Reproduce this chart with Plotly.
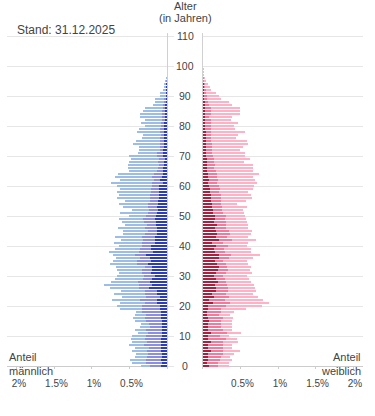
import plotly.graph_objects as go

ages = list(range(0, 101))

# Shares in % of total population, three segments per sex (inner, middle, outer)
male_dark = [0.08,0.07,0.08,0.07,0.07,0.08,0.08,0.08,0.08,0.08,
             0.07,0.07,0.07,0.07,0.07,0.07,0.08,0.08,0.08,0.09,
             0.09,0.13,0.13,0.09,0.13,0.13,0.24,0.20,0.23,0.20,
             0.16,0.21,0.20,0.20,0.25,0.21,0.23,0.28,0.19,0.21,
             0.21,0.16,0.16,0.16,0.13,0.13,0.13,0.15,0.15,0.16,
             0.15,0.13,0.12,0.13,0.12,0.12,0.11,0.11,0.11,0.11,
             0.11,0.05,0.09,0.07,0.05,0.05,0.05,0.04,0.04,0.03,
             0.05,0.05,0.05,0.04,0.04,0.04,0.04,0.04,0.04,0.04,
             0.04,0.04,0.03,0.03,0.03,0.03,0.03,0.03,0.01,0.01,
             0.01,0.01,0.01,0.01,0.01,0.00,0.00,0,0,0,0]
male_mid = [0.15,0.21,0.20,0.20,0.19,0.19,0.16,0.23,0.19,0.21,
            0.21,0.19,0.21,0.16,0.17,0.21,0.21,0.20,0.25,0.25,
            0.25,0.17,0.23,0.19,0.17,0.16,0.13,0.17,0.16,0.12,
            0.15,0.12,0.13,0.09,0.15,0.19,0.13,0.15,0.19,0.15,
            0.12,0.17,0.16,0.17,0.17,0.13,0.17,0.12,0.16,0.16,
            0.13,0.13,0.12,0.12,0.13,0.11,0.12,0.12,0.11,0.11,
            0.09,0.15,0.09,0.13,0.12,0.09,0.07,0.07,0.08,0.08,
            0.09,0.09,0.05,0.05,0.05,0.05,0.05,0.04,0.05,0.05,
            0.04,0.04,0.04,0.04,0.04,0.04,0.03,0.03,0.03,0.03,
            0.01,0.01,0.01,0.01,0.01,0.01,0.00,0,0,0,0]
male_light = [0.12,0.19,0.21,0.16,0.15,0.19,0.19,0.19,0.20,0.19,
              0.19,0.13,0.15,0.13,0.11,0.15,0.16,0.15,0.08,0.29,
              0.32,0.32,0.37,0.32,0.40,0.32,0.39,0.47,0.35,0.37,
              0.36,0.31,0.33,0.39,0.36,0.32,0.32,0.29,0.39,0.33,
              0.31,0.37,0.29,0.36,0.29,0.32,0.35,0.29,0.29,0.32,
              0.23,0.37,0.23,0.33,0.39,0.33,0.43,0.41,0.45,0.41,
              0.47,0.55,0.44,0.49,0.48,0.37,0.40,0.41,0.39,0.37,
              0.37,0.25,0.28,0.29,0.36,0.32,0.25,0.24,0.31,0.28,
              0.21,0.27,0.23,0.29,0.29,0.25,0.23,0.13,0.12,0.12,
              0.07,0.07,0.03,0.02,0.02,0.02,0.02,0,0,0,0]

female_dark = [0.08,0.05,0.07,0.07,0.07,0.11,0.07,0.07,0.11,0.07,
               0.07,0.11,0.07,0.07,0.07,0.08,0.07,0.05,0.05,0.07,
               0.07,0.13,0.08,0.15,0.12,0.17,0.17,0.16,0.20,0.17,
               0.15,0.17,0.20,0.21,0.19,0.16,0.21,0.21,0.16,0.15,
               0.17,0.12,0.21,0.17,0.19,0.17,0.16,0.19,0.15,0.16,
               0.16,0.13,0.13,0.12,0.12,0.11,0.11,0.11,0.09,0.09,
               0.08,0.07,0.08,0.07,0.07,0.05,0.05,0.05,0.05,0.05,
               0.04,0.04,0.04,0.04,0.04,0.04,0.04,0.04,0.04,0.03,
               0.03,0.03,0.03,0.03,0.03,0.03,0.03,0.03,0.03,0.01,
               0.01,0.01,0.01,0.01,0.01,0.00,0.00,0,0,0,0]
female_mid = [0.12,0.15,0.15,0.17,0.19,0.15,0.19,0.20,0.16,0.23,
              0.15,0.21,0.19,0.17,0.17,0.16,0.20,0.16,0.19,0.17,
              0.23,0.23,0.21,0.19,0.19,0.16,0.16,0.16,0.11,0.12,
              0.11,0.13,0.13,0.11,0.12,0.11,0.13,0.16,0.13,0.13,
              0.16,0.15,0.17,0.15,0.17,0.17,0.15,0.12,0.15,0.13,
              0.15,0.13,0.12,0.13,0.12,0.13,0.13,0.13,0.12,0.13,
              0.13,0.12,0.12,0.12,0.12,0.12,0.09,0.11,0.09,0.09,
              0.09,0.08,0.08,0.08,0.08,0.07,0.07,0.07,0.07,0.07,
              0.07,0.07,0.07,0.05,0.07,0.07,0.07,0.05,0.04,0.04,
              0.04,0.03,0.03,0.01,0.01,0.01,0.01,0.00,0,0,0]
female_light = [0.15,0.15,0.17,0.12,0.15,0.23,0.13,0.12,0.19,0.15,
                0.13,0.19,0.13,0.15,0.15,0.15,0.13,0.15,0.17,0.33,
                0.48,0.52,0.51,0.39,0.36,0.37,0.36,0.36,0.33,0.32,
                0.32,0.35,0.29,0.32,0.29,0.31,0.32,0.39,0.35,0.36,
                0.25,0.33,0.33,0.28,0.28,0.31,0.29,0.29,0.28,0.28,
                0.25,0.28,0.28,0.33,0.21,0.33,0.41,0.40,0.39,0.44,
                0.47,0.53,0.49,0.48,0.55,0.49,0.52,0.51,0.40,0.49,
                0.43,0.44,0.37,0.41,0.48,0.47,0.33,0.36,0.45,0.33,
                0.31,0.37,0.27,0.31,0.39,0.39,0.39,0.31,0.28,0.19,
                0.16,0.13,0.07,0.07,0.05,0.03,0.02,0.01,0.01,0.01,0.005]

x_ticks = [0.5, 1, 1.5, 2]
x_ticktext = ["0.5%", "1%", "1.5%", "2%"]
age_ticks = list(range(0, 111, 10))

FONT = "Liberation Sans, Arial, sans-serif"
male_colors = ["#2c3db6", "#8b8fde", "#9ebde6"]
female_colors = ["#a8213f", "#f27a9b", "#ffb2c5"]

fig = go.Figure()
for vals, col in zip([male_dark, male_mid, male_light], male_colors):
    fig.add_trace(go.Bar(y=ages, x=vals, orientation="h", width=2 / 3,
                         marker=dict(color=col, line=dict(width=0)),
                         xaxis="x", yaxis="y", hoverinfo="skip", showlegend=False))
for vals, col in zip([female_dark, female_mid, female_light], female_colors):
    fig.add_trace(go.Bar(y=ages, x=vals, orientation="h", width=2 / 3,
                         marker=dict(color=col, line=dict(width=0)),
                         xaxis="x2", yaxis="y2", hoverinfo="skip", showlegend=False))

W, H = 375, 416
def py(p):
    return (H - p) / H

# 3 px per year: plot spans pixel rows 33..369 for ages -1..111
ydom = [47 / H, 383 / H]
yrange = [-1, 111]

common_x = dict(tickvals=x_ticks, ticktext=x_ticktext, ticks="inside", ticklen=3,
                tickcolor="#cccccc", showgrid=False, zeroline=False, showline=False,
                tickfont=dict(size=10, color="#444444", family=FONT),
                ticklabelstandoff=7, fixedrange=True)

fig.update_layout(
    width=W, height=H, margin=dict(l=0, r=0, t=0, b=0),
    paper_bgcolor="white", plot_bgcolor="white",
    barmode="stack",
    hovermode=False, dragmode=False,
    font=dict(family=FONT, color="#444444"),
    xaxis=dict(domain=[7 / W, 167 / W], range=[2.133, 0], anchor="y",
               ticklabelshift=-2, **common_x),
    xaxis2=dict(domain=[203 / W, 363 / W], range=[0, 2.133], anchor="y2",
                ticklabelshift=2, **common_x),
    yaxis=dict(domain=ydom, range=yrange, anchor="x", side="right", tick0=0, dtick=10,
               showgrid=True, gridcolor="#e6e6e6", gridwidth=1,
               zeroline=True, zerolinecolor="#cccccc", zerolinewidth=1,
               showline=True, linecolor="#d0d0d0", linewidth=1,
               ticks="outside", ticklen=6, tickcolor="#e6e6e6",
               showticklabels=False, fixedrange=True),
    yaxis2=dict(domain=ydom, range=yrange, anchor="x2", side="left", tick0=0, dtick=10,
                matches="y",
                showgrid=True, gridcolor="#e6e6e6", gridwidth=1,
                zeroline=True, zerolinecolor="#cccccc", zerolinewidth=1,
                showline=True, linecolor="#d0d0d0", linewidth=1,
                ticks="", showticklabels=False, fixedrange=True),
)

ann = []
for a in age_ticks:
    ann.append(dict(x=185 / W, xref="paper", y=a, yref="y", text=str(a), showarrow=False,
                    xanchor="center", yanchor="middle", font=dict(size=10.5, color="#444444")))
ann += [
    dict(x=15 / W, y=py(30), xref="paper", yref="paper", text="Stand: 31.12.2025", showarrow=False,
         xanchor="left", yanchor="middle", font=dict(size=12, color="#444444")),
    dict(x=185 / W, y=py(6), xref="paper", yref="paper", text="Alter", showarrow=False,
         xanchor="center", yanchor="middle", font=dict(size=11, color="#444444")),
    dict(x=185 / W, y=py(17.5), xref="paper", yref="paper", text="(in Jahren)", showarrow=False,
         xanchor="center", yanchor="middle", font=dict(size=11, color="#444444")),
    dict(x=7 / W, y=py(357), xref="paper", yref="paper", text="Anteil", showarrow=False,
         xanchor="left", yanchor="middle", font=dict(size=11, color="#444444")),
    dict(x=7 / W, y=py(370.5), xref="paper", yref="paper", text="männlich", showarrow=False,
         xanchor="left", yanchor="middle", font=dict(size=11, color="#444444")),
    dict(x=363 / W, y=py(357), xref="paper", yref="paper", text="Anteil", showarrow=False,
         xanchor="right", yanchor="middle", font=dict(size=11, color="#444444")),
    dict(x=363 / W, y=py(370.5), xref="paper", yref="paper", text="weiblich", showarrow=False,
         xanchor="right", yanchor="middle", font=dict(size=11, color="#444444")),
]
fig.update_layout(annotations=ann)

fig.write_html("out.html", config={"displayModeBar": False, "staticPlot": True},
               post_script="document.body.style.margin='0';document.body.style.padding='0';")
